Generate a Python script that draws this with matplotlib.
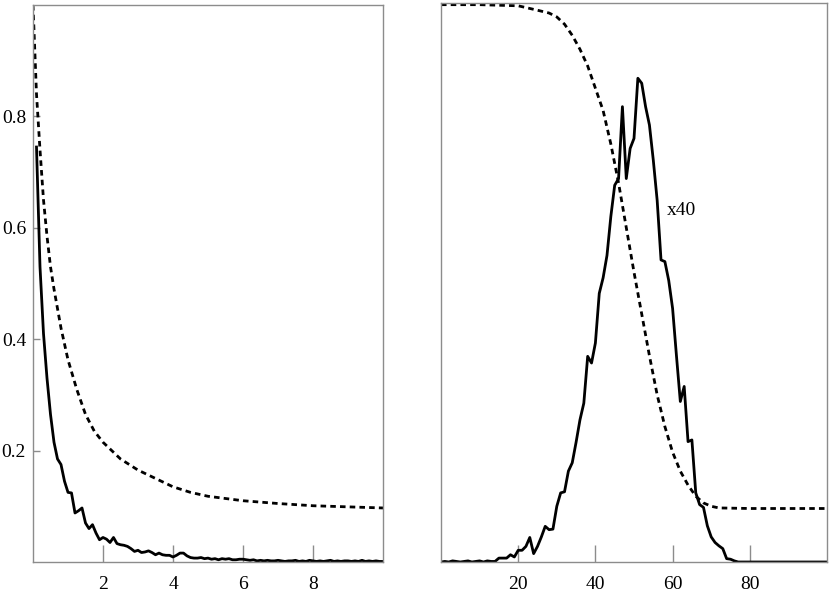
import matplotlib.pyplot as plt
import matplotlib as mpl
import numpy as np

mpl.rc('font', family='Liberation Serif', size=14)
plt.rcParams["figure.dpi"] = 100
plt.rcParams["figure.facecolor"] = "white"

# left panel: decay curves
left_dash_x = [0, 0.1, 0.2, 0.3, 0.4, 0.5, 0.6, 0.8, 1.0, 1.25, 1.5, 1.75, 2.0, 2.5,
               3.0, 3.5, 4.0, 4.5, 5.0, 6.0, 7.0, 8.0, 9.0, 10.0]
left_dash_y = [1.0, 0.84, 0.74, 0.65, 0.585, 0.53, 0.49, 0.42, 0.363, 0.31, 0.265, 0.235,
               0.215, 0.185, 0.165, 0.15, 0.135, 0.125, 0.118, 0.11, 0.105, 0.101, 0.099, 0.097]

left_solid_x = [round(0.1 * i, 1) for i in range(1, 101)]
left_solid_y = [0.745, 0.53, 0.41, 0.33, 0.265, 0.215, 0.185, 0.175, 0.145, 0.125,
                0.124, 0.088, 0.092, 0.097, 0.07, 0.06, 0.067, 0.052, 0.04, 0.044,
                0.041, 0.035, 0.044, 0.033, 0.031, 0.030, 0.028, 0.024, 0.019, 0.021,
                0.017, 0.018, 0.020, 0.017, 0.013, 0.016, 0.013, 0.012, 0.012, 0.009,
                0.012, 0.016, 0.016, 0.011, 0.008, 0.007, 0.007, 0.008, 0.006, 0.007,
                0.005, 0.006, 0.004, 0.006, 0.005, 0.006, 0.004, 0.004, 0.005, 0.005,
                0.004, 0.003, 0.004, 0.002, 0.003, 0.002, 0.003, 0.002, 0.002, 0.003,
                0.002, 0.001, 0.002, 0.002, 0.003, 0.001, 0.002, 0.001, 0.003, 0.002,
                0.001, 0.002, 0.001, 0.002, 0.003, 0.001, 0.002, 0.001, 0.002, 0.002,
                0.001, 0.002, 0.001, 0.003, 0.001, 0.002, 0.001, 0.002, 0.001, 0.001]

# right panel
right_dash_x = [0, 10, 20, 25, 28, 30, 32, 34, 36, 38, 40, 42, 44, 46, 48, 50, 52, 54,
                56, 58, 60, 62, 64, 66, 68, 70, 72, 80, 100]
right_dash_y = [1.0, 1.0, 0.998, 0.99, 0.985, 0.978, 0.965, 0.945, 0.92, 0.89, 0.85, 0.81,
                0.75, 0.68, 0.6, 0.52, 0.445, 0.37, 0.3, 0.243, 0.197, 0.163, 0.138, 0.118,
                0.106, 0.1, 0.097, 0.096, 0.096]

right_solid_x = list(range(0, 101))
right_solid_y = [0, 0.001, 0, 0.002, 0.001, 0, 0.001, 0.002, 0, 0.001,
                 0.002, 0, 0.002, 0.001, 0.001, 0.007, 0.007, 0.007, 0.013, 0.009,
                 0.021, 0.021, 0.028, 0.044, 0.015, 0.028, 0.045, 0.064, 0.058, 0.059,
                 0.1, 0.124, 0.126, 0.163, 0.178, 0.215, 0.255, 0.285, 0.369, 0.357,
                 0.393, 0.482, 0.51, 0.55, 0.62, 0.676, 0.688, 0.817, 0.688, 0.742,
                 0.76, 0.868, 0.859, 0.817, 0.784, 0.721, 0.649, 0.542, 0.539, 0.505,
                 0.455, 0.37, 0.288, 0.315, 0.216, 0.219, 0.124, 0.103, 0.098, 0.065,
                 0.045, 0.035, 0.029, 0.024, 0.006, 0.005, 0.002, 0, 0, 0,
                 0, 0, 0, 0, 0, 0, 0, 0, 0, 0,
                 0, 0, 0, 0, 0, 0, 0, 0, 0, 0, 0]

fig = plt.figure(figsize=(8.3, 5.96))
ax1 = fig.add_axes([33/830, 34/596, 350/830, 557/596])
ax2 = fig.add_axes([441/830, 34/596, 386/830, 559/596])

dash = (0, (2.0, 1.5))
ax1.plot(left_dash_x, left_dash_y, color='k', lw=2.0, ls=dash)
ax1.plot(left_solid_x, left_solid_y, color='k', lw=2.0)
ax2.plot(right_dash_x, right_dash_y, color='k', lw=2.0, ls=dash)
ax2.plot(right_solid_x, right_solid_y, color='k', lw=2.0)
ax2.text(58.4, 0.63, 'x40', ha='left', va='center')

ax1.set_xlim(0, 10)
ax1.set_ylim(0, 1.0)
ax1.set_xticks([2, 4, 6, 8])
ax1.set_yticks([0.2, 0.4, 0.6, 0.8])
ax1.set_yticklabels(['0.2', '0.4', '0.6', '0.8'])

ax2.set_xlim(0, 100)
ax2.set_ylim(0, 1.003)
ax2.set_xticks([20, 40, 60, 80])
ax2.set_yticks([])

for ax in (ax1, ax2):
    for s in ax.spines.values():
        s.set_color('#8c8c8c')
        s.set_linewidth(1.0)
    ax.tick_params(axis='x', direction='in', length=12, width=1, color='#8c8c8c', pad=10)
    ax.tick_params(axis='y', direction='in', length=5, width=1, color='#8c8c8c', pad=5)

plt.savefig("out.png")
